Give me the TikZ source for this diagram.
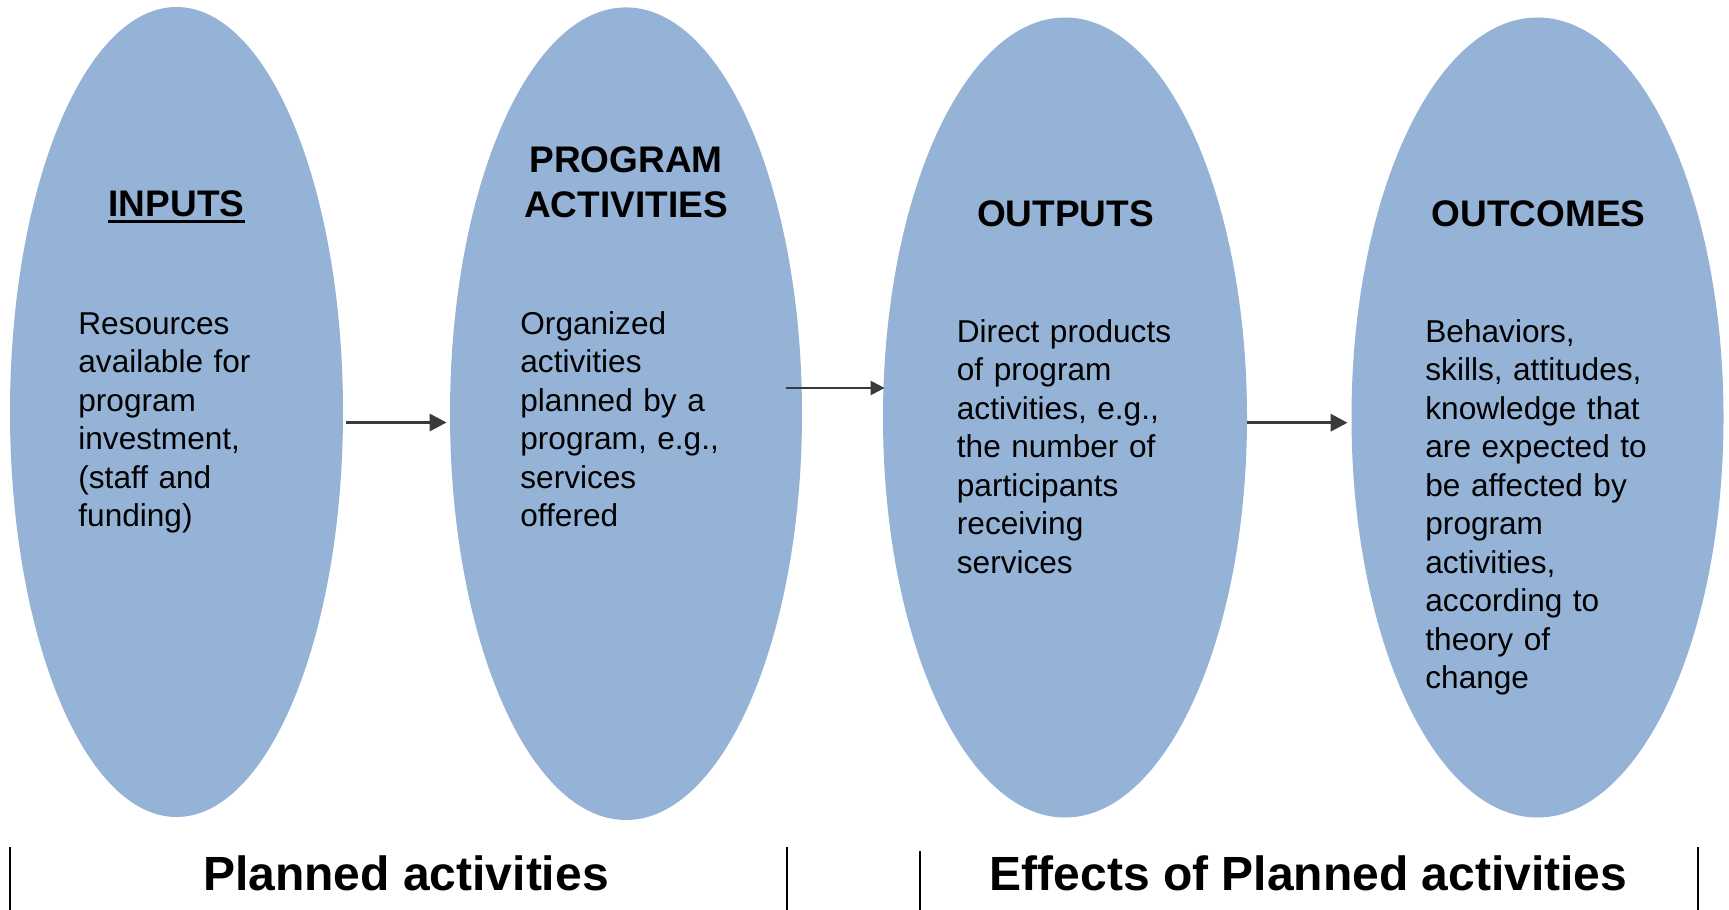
\documentclass[tikz,border=0pt]{standalone}
\usepackage{fontspec}
\setmainfont{Liberation Sans}
\usetikzlibrary{shapes.geometric,arrows.meta}
\definecolor{ovalblue}{HTML}{95B3D7}
\definecolor{arrowgray}{HTML}{3A3A3A}
\begin{document}
\begin{tikzpicture}[x=0.5pt,y=-0.5pt,
  oval/.style={ellipse,fill=ovalblue,draw=none,inner sep=0pt},
  ttl/.style={font=\fontsize{18.5}{22.5}\selectfont\bfseries,inner sep=0pt,anchor=base},
  ttlwide/.style={ttl,align=center,text width=130pt},
  body/.style={font=\fontsize{15.8}{19.25}\selectfont,inner sep=0pt,align=left,text width=130pt,anchor=base west},
  lbl/.style={font=\fontsize{24}{28}\selectfont\bfseries,inner sep=0pt,anchor=base},
  flow/.style={draw=arrowgray,line width=1.6pt,-{Triangle[length=8.5pt,width=8.5pt]}},
  flowthin/.style={draw=arrowgray,line width=1.2pt,-{Triangle[length=7pt,width=7pt]}},
  sep/.style={draw=black,line width=1pt}]
\useasboundingbox[fill=white] (0,0) rectangle (1729,910);

% ovals
\node[oval,minimum width=166.5pt,minimum height=405pt] (e1) at (176.5,412) {};
\node[oval,minimum width=176pt,minimum height=406.3pt] (e2) at (626,413.7) {};
\node[oval,minimum width=182pt,minimum height=400pt] (e3) at (1065,417.5) {};
\node[oval,minimum width=186pt,minimum height=400pt] (e4) at (1537.5,417.5) {};

% titles
\node[ttl] (t1) at (176.5,216.7) {INPUTS};
\draw[line width=1.4pt] ([yshift=-2.5pt]t1.base west) -- ([yshift=-2.5pt]t1.base east);
\node[ttlwide] (t2) at (626,172.7) {PROGRAM\\ACTIVITIES};
\node[ttl] (t3) at (1065.5,226) {OUTPUTS};
\node[ttl] (t4) at (1538.5,226) {OUTCOMES};

% body texts
\node[body] (b1) at (78,334) {Resources\\available for\\program\\investment,\\(staff and\\funding)};
\node[body] (b2) at (520,334) {Organized\\activities\\planned by a\\program, e.g.,\\services\\offered};
\node[body] (b3) at (956.5,342) {Direct products\\of program\\activities, e.g.,\\the number of\\participants\\receiving\\services};
\node[body] (b4) at (1425,342) {Behaviors,\\skills, attitudes,\\knowledge that\\are expected to\\be affected by\\program\\activities,\\according to\\theory of\\change};

% connectors
\coordinate (a1s) at ([shift={(3,10.5)}]e1.east);
\draw[flow,shorten >=1.5pt] (a1s) -- (e2.west |- a1s);
\coordinate (a2s) at ([shift={(-16,-25.7)}]e2.east);
\draw[flowthin,shorten >=-1pt] (a2s) -- (e3.west |- a2s);
\coordinate (a3s) at ([shift={(0,5.2)}]e3.east);
\draw[flow,shorten >=1.75pt] (a3s) -- (e4.west |- a3s);

% bottom labels and separators
\node[lbl] (l1) at (406,890) {Planned activities};
\node[lbl] (l2) at (1308.5,890) {Effects of Planned activities};
\draw[sep] (10,847) -- (10,910);
\draw[sep] (786.5,847) -- (786.5,910);
\draw[sep] (919.5,851) -- (919.5,910);
\draw[sep] (1697.5,847) -- (1697.5,910);
\end{tikzpicture}
\end{document}
